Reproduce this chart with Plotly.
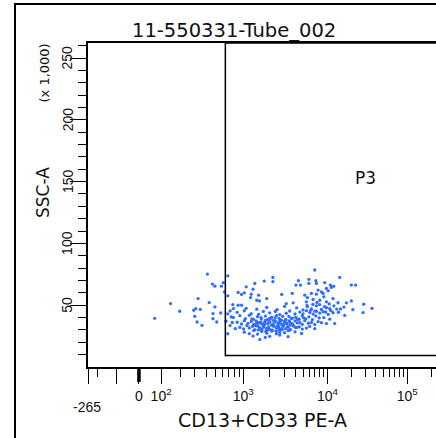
import numpy as np
import plotly.graph_objects as go

# ---------------- text ----------------
title_text = "11-550331-Tube_002"
x_title = "CD13+CD33 PE-A"
y_title = "SSC-A"
y_scale_note = "(x 1,000)"
gate_name = "P3"
x_min_label = "-265"

# ---------------- data (PE-A raw, SSC-A in thousands) ----------------
pe_a = [
    # sparse upper / outliers
    6960, 412, 680, 2180, 14190, 2180, 1730, 1350, 4400, 5900, 7170, 7300, 466, 495, 580, 608,
    4100, 4660, 5900, 9250, 10850, 11930, 19800, 22400, 9700, 8400, 7650, 625, 680, 880, 960,
    1080, 1290, 1030, 1230, 1490, 2770, 3700, 5250, 5650, 6340, 7300, 8820, 10200, 11170, 9000,
    326, 430, 147, 770, 880, 960, 1420, 1210, 1530, 1850, 17200, 19800, 28300, 3140, 3800, 5500,
    6640, 8020, 9700, 11700, 495, 198, 292, 308, 345, 570, 472, 300, 472, 318, 518, 360, 720, 780,
    20700, 27800, 12290, 680, 1540, 16390, 70, 36000,
    # band 46-50
    1080, 1420, 1850, 2450, 3000, 4180, 5000, 5650, 6340, 7300, 8400, 9700, 10650, 13000, 16000,
    # band 42-46
    860, 1030, 1230, 1490, 1690, 2000, 2330, 2630, 3140, 3450, 4000, 4570, 5000, 5500, 6040, 6640,
    7300, 8020, 8820, 10200, 11700, 13700,
    # band 38-42
    780, 920, 1060, 1170, 1310, 1450, 1590, 1780, 1950, 2120, 2400, 2580, 2850, 3080, 3380, 3740,
    4100, 4500, 4900, 5400, 5900, 6500, 7170, 7900, 9000, 10650,
    # band 34-38
    860, 960, 1030, 1130, 1230, 1310, 1400, 1490, 1590, 1660, 1780, 1900, 2000, 2180, 2330, 2500,
    2630, 2850, 3000, 3200, 3450, 3740, 4000, 4250, 4570, 4900, 5250, 5800, 6340, 6960, 7650, 8400, 9700,
    # band 30-34
    920, 1010, 1100, 1170, 1270, 1350, 1450, 1530, 1620, 1730, 1830, 1950, 2050, 2220, 2400, 2540,
    2700, 2900, 3080, 3300, 3520, 3800, 4100, 4500, 4900, 5500, 6040, 6960,
    # core extra
    1550, 1700, 1880, 2100, 2300, 2550, 2750, 2950, 3250, 3550, 1620, 1980, 2380, 2680, 3100, 1750,
    2250, 2820, 3400, 2050,
    # band 26-30
    1030, 1170, 1310, 1450, 1620, 1850, 2120, 2400, 2630, 3000, 3450, 4000, 4800,
    # band 22-26
    1290, 2000, 2630, 3300, 1780,
    # near gate edge
    680, 740, 720, 820, 650, 760,
    # right side of cluster
    8000, 9200, 10500, 12000, 13500, 7400, 6600, 11000, 14500, 9500, 5600, 6200, 7000,
    # core extra 2
    1250, 1380, 1480, 1600, 1720, 1860, 2000, 2150, 2320, 2480, 2650, 2850, 3050, 3300, 3600, 3900,
    4300, 1420, 1800, 2200, 2600, 3000, 3500, 4200, 5100,
]
ssc_a = [
    78.5, 75.2, 73.8, 72.5, 72.5, 69.0, 69.5, 67.6, 69.8, 70.9, 69.8, 67.6, 67.1, 65.4, 65.4, 68.2,
    66.3, 66.3, 67.6, 68.2, 66.3, 65.4, 66.3, 66.3, 63.5, 60.8, 62.2, 60.8, 57.6, 60.3, 58.7,
    64.9, 63.0, 60.0, 58.9, 58.1, 58.7, 59.5, 58.1, 56.2, 59.5, 58.9, 59.5, 61.6, 64.4, 56.8,
    55.4, 52.1, 51.3, 50.5, 50.0, 50.0, 54.0, 56.2, 53.5, 55.4, 51.9, 53.5, 50.8, 51.3, 51.9, 52.7,
    54.6, 54.0, 52.7, 55.4, 48.6, 45.1, 45.9, 47.3, 46.7, 43.7, 43.2, 41.0, 39.1, 36.4, 36.4, 33.7, 45.4, 47.3,
    46.4, 44.0, 35.1, 26.9, 22.3, 41.8, 39.4, 47.5,
    # band 46-50
    47.5, 46.8, 48.2, 46.5, 49.0, 47.8, 46.2, 48.8, 47.0, 49.5, 46.6, 48.0, 47.2, 46.9, 48.5,
    # band 42-46
    44.2, 45.5, 43.1, 42.6, 45.0, 43.8, 44.9, 42.4, 43.5, 45.3, 42.9, 44.4, 43.0, 45.6, 44.0, 42.8,
    45.1, 43.6, 44.7, 42.5, 43.9, 44.3,
    # band 38-42
    40.1, 41.5, 39.2, 41.8, 38.6, 40.7, 39.9, 41.2, 38.9, 40.4, 41.6, 39.4, 40.9, 38.4, 41.0, 39.6,
    40.2, 38.8, 41.4, 39.0, 40.6, 38.3, 41.3, 39.7, 40.0, 38.7,
    # band 34-38
    36.2, 34.8, 37.5, 35.3, 36.9, 34.4, 37.1, 35.8, 36.5, 34.2, 37.7, 35.0, 36.3, 34.6, 37.3, 35.5,
    36.8, 34.1, 37.0, 35.2, 36.6, 34.9, 37.4, 35.7, 36.1, 34.5, 37.6, 35.4, 36.0, 34.3, 36.7, 35.9, 35.1,
    # band 30-34
    32.0, 30.8, 33.5, 31.6, 32.9, 30.3, 33.2, 31.9, 30.6, 33.8, 31.2, 32.5, 30.1, 33.0, 31.4, 32.7,
    30.9, 33.6, 31.1, 32.2, 30.4, 33.3, 31.8, 32.4, 30.7, 31.5, 32.8, 31.0,
    # core extra
    35.6, 32.3, 38.1, 33.9, 36.4, 31.7, 37.9, 34.7, 32.6, 35.3, 29.3, 30.5, 29.0, 35.0, 38.4, 36.0,
    33.1, 30.2, 37.2, 39.5,
    # band 26-30
    28.2, 27.0, 29.5, 26.6, 28.8, 27.4, 29.1, 26.9, 28.0, 27.7, 29.8, 28.5, 27.2,
    # band 22-26
    25.0, 24.8, 25.8, 24.5, 23.9,
    # near gate edge
    43.0, 40.5, 33.5, 31.0, 37.0, 36.0,
    # right side of cluster
    50.5, 48.8, 51.0, 49.5, 52.0, 52.2, 50.6, 45.6, 47.0, 44.5, 49.8, 46.0, 45.2,
    # core extra 2
    38.9, 33.4, 30.0, 39.1, 34.4, 29.6, 38.7, 29.8, 39.8, 33.6, 38.0, 32.8, 35.8, 29.4, 39.3, 33.0,
    38.5, 35.4, 28.7, 37.8, 30.0, 36.2, 34.0, 32.1, 39.7,
]

# gate P3 lower-left corner
gate_pe_min = 640
gate_ssc_min = 9.3

# axis ticks
x_major_vals = [-265, -100, 0, 100, 1000, 10000, 100000]
x_major_text = ["", "", "0", "10<sup>2</sup>", "10<sup>3</sup>", "10<sup>4</sup>", "10<sup>5</sup>"]
x_minor_vals = [-200] + [k * 10 ** e for e in (2, 3, 4) for k in range(2, 10)] + [200000]
y_major_vals = [50, 100, 150, 200, 250]
y_minor_vals = [v for v in range(10, 261, 10) if v % 50]

# ---------------- biexponential (logicle) scale ----------------
T_TOP = 262144.0
M_DEC = 4.46
W_DEC = 0.645
LN10 = np.log(10.0)
w = W_DEC * LN10
m = M_DEC * LN10
lo, hi = 1.0001, 100.0
for _ in range(200):
    mid = (lo + hi) / 2
    if 2 * mid * np.log(mid) / (mid + 1) < w:
        lo = mid
    else:
        hi = mid
p = (lo + hi) / 2


def s_pos(x):
    return T_TOP * np.exp(-(m - w)) * (np.exp(x - w) - p * p * np.exp(-(x - w) / p) + p * p - 1)


grid = np.linspace(0, m * 1.02, 40001)
vals = np.where(grid >= w, s_pos(grid), -s_pos(2 * w - grid))


def lg(v):
    return np.interp(np.asarray(v, dtype=float), vals, grid / LN10)


# ---------------- layout geometry ----------------
W_FIG, H_FIG = 436, 438
# the paper area is the outer frame (left edge x=14, top edge y=3)
ML, MR, MT, MB = 14, 0, 3, 0
PAPER_W = W_FIG - ML - MR
PAPER_H = H_FIG - MT - MB
PLOT_L, PLOT_R, PLOT_T, PLOT_B = 88, 436, 43, 367
X_MAX = (PLOT_R - PLOT_L) / 79.0


def pxx(px):
    return (px - ML) / PAPER_W


def pxy(py):
    return (H_FIG - MB - py) / PAPER_H


XDOM = [pxx(PLOT_L), pxx(PLOT_R)]
YDOM = [pxy(PLOT_B), pxy(PLOT_T)]

FONT_T = "DejaVu Sans"
FONT_K = "Liberation Sans"

fig = go.Figure()
fig.add_trace(go.Scatter(
    x=lg(pe_a), y=ssc_a, mode="markers",
    marker=dict(size=3.3, color="#2f6dff", line=dict(width=0)),
    hoverinfo="skip",
))

fig.update_layout(
    width=W_FIG, height=H_FIG,
    margin=dict(l=ML, r=MR, t=MT, b=MB, pad=0),
    paper_bgcolor="white", plot_bgcolor="rgba(0,0,0,0)",
    showlegend=False,
    xaxis=dict(
        domain=XDOM, range=[0, X_MAX], showgrid=False, zeroline=False,
        showline=True, linecolor="black", linewidth=1.5, mirror=True,
        ticks="outside", ticklen=15, tickwidth=1, tickcolor="black",
        tickmode="array", tickvals=list(lg(x_major_vals)), ticktext=x_major_text,
        tickfont=dict(family=FONT_K, size=14, color="#111"),
        minor=dict(tickmode="array", tickvals=list(lg(x_minor_vals)), ticks="outside",
                   ticklen=8, tickwidth=1, tickcolor="black", showgrid=False),
    ),
    yaxis=dict(
        domain=YDOM, range=[0, 262.144], showgrid=False, zeroline=False,
        showline=True, linecolor="black", linewidth=1.5, mirror=False,
        ticks="outside", ticklen=16, tickwidth=1, tickcolor="black",
        tickmode="array", tickvals=y_major_vals, showticklabels=False,
        minor=dict(tickmode="array", tickvals=y_minor_vals, ticks="outside",
                   ticklen=8, tickwidth=1, tickcolor="black", showgrid=False),
    ),
)

ann = [
    dict(text=title_text, xref="paper", yref="paper", x=pxx(233.5), y=pxy(30),
         font=dict(family=FONT_T, size=19.5, color="#111")),
    dict(text=x_title, xref="paper", yref="paper", x=pxx(262.5), y=pxy(420),
         font=dict(family=FONT_T, size=19, color="#111")),
    dict(text=y_title, xref="paper", yref="paper", x=pxx(43), y=pxy(193), textangle=-90,
         font=dict(family=FONT_T, size=17, color="#111")),
    dict(text=y_scale_note, xref="paper", yref="paper", x=pxx(43.5), y=pxy(73), textangle=-90,
         font=dict(family=FONT_T, size=13, color="#111")),
    dict(text=gate_name, xref="paper", yref="paper", x=pxx(365), y=pxy(178),
         font=dict(family=FONT_T, size=17, color="#111")),
    dict(text=x_min_label, xref="paper", yref="paper", x=pxx(87), y=pxy(407),
         font=dict(family=FONT_K, size=14, color="#111")),
]
# rotated y tick labels, placed on the y axis scale
for v in y_major_vals:
    ann.append(dict(text=str(v), xref="paper", yref="y", x=pxx(67.5), y=v, textangle=-90,
                    font=dict(family=FONT_K, size=14, color="#111")))
for a in ann:
    a.update(showarrow=False, xanchor="center", yanchor="middle")
fig.update_layout(annotations=ann)

zero_x = XDOM[0] + float(lg(0)) / X_MAX * (XDOM[1] - XDOM[0])
fig.update_layout(shapes=[
    # outer frame: left and top edges (the rest lies outside the window)
    dict(type="line", xref="paper", yref="paper", x0=pxx(15), x1=pxx(15), y0=0, y1=pxy(3),
         line=dict(color="black", width=2)),
    dict(type="line", xref="paper", yref="paper", x0=pxx(14), x1=1, y0=pxy(4), y1=pxy(4),
         line=dict(color="black", width=2)),
    # gate P3
    dict(type="rect", xref="x", yref="y", x0=float(lg(gate_pe_min)), x1=float(lg(T_TOP)) + 0.5,
         y0=gate_ssc_min, y1=262.144, line=dict(color="black", width=1.5), fillcolor="rgba(0,0,0,0)"),
    # thick zero tick
    dict(type="line", xref="paper", yref="paper", x0=zero_x, x1=zero_x,
         y0=YDOM[0], y1=YDOM[0] - 15 / PAPER_H, line=dict(color="black", width=3.5)),
])

fig.write_html(
    "out.html",
    config={"displayModeBar": False},
    post_script="document.body.style.margin='0px';",
)
